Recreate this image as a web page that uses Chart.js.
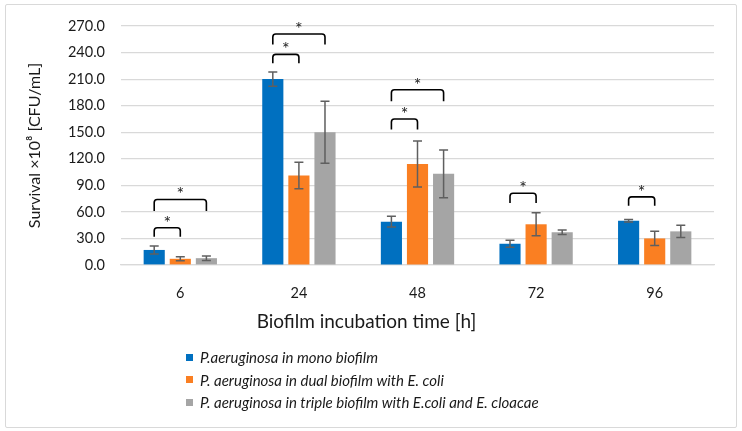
<!DOCTYPE html>
<html>
<head>
<meta charset="utf-8">
<script src="https://cdn.jsdelivr.net/npm/chart.js@4"></script>
<style>
  body { margin: 0; background: #fff; }
  .frame { position: absolute; left: 5px; top: 4px; width: 730px; height: 422px;
           border: 1px solid #d9d9d9; border-radius: 2px; }
  .wrap { position: absolute; left: 0; top: 0; width: 742px; height: 431px; }
  .xtitle { position: absolute; left: 0; top: 309px; width: 733px; text-align: center;
            font-family: Lato, sans-serif; font-size: 19px; color: #1a1a1a; }
  .legend { position: absolute; left: 186px; top: 346px; font-family: Lato, sans-serif;
            font-size: 15px; font-style: italic; color: #1a1a1a; }
  .legend-row { display: flex; align-items: center; height: 22.5px; }
  .legend-box { width: 7px; height: 7px; margin-right: 7px; }
</style>
</head>
<body>
<div class="frame"></div>
<div class="wrap"><canvas id="c" width="742" height="431"></canvas></div>
<div class="xtitle">Biofilm incubation time [h]</div>
<div class="legend" id="legend"></div>
<script>
// categories (incubation time, h)
const categories = ['6', '24', '48', '72', '96'];
const seriesNames = [
  'P.aeruginosa in mono biofilm',
  'P. aeruginosa in dual biofilm with E. coli',
  'P. aeruginosa in triple biofilm with E.coli and E. cloacae',
];
const seriesColors = ['#0070C0', '#FA7F22', '#A5A5A5'];

// survival x10^8 CFU/mL, with +/- error
const monoValues   = [17, 210, 49, 24, 50];
const monoErrors   = [4.5, 8, 6, 4, 1.5];
const dualValues   = [7, 101, 114, 46, 30];
const dualErrors   = [2.3, 15, 26, 13, 8];
const tripleValues = [7.7, 150, 103, 37, 38];
const tripleErrors = [2.5, 35, 27, 2.5, 7];

// significance brackets: category index, from series, to series, top value, leg end value
const bracketGroup = [0, 0, 1, 1, 2, 2, 3, 4];
const bracketFrom  = [0, 0, 0, 0, 0, 0, 0, 0];
const bracketTo    = [1, 2, 1, 2, 1, 2, 1, 1];
const bracketTop   = [42, 74, 238, 261, 165, 198, 81, 77];
const bracketLeg   = [32, 61, 228, 249, 153, 185, 70, 67];

const seriesValues = [monoValues, dualValues, tripleValues];
const seriesErrors = [monoErrors, dualErrors, tripleErrors];

Chart.defaults.font.family = 'Lato, sans-serif';
Chart.defaults.color = '#1a1a1a';

const errorBarPlugin = {
  id: 'errorBars',
  afterDatasetsDraw(chart) {
    const ctx = chart.ctx, y = chart.scales.y;
    ctx.save();
    ctx.strokeStyle = '#5f5f5f';
    ctx.lineWidth = 1.5;
    seriesErrors.forEach((errs, d) => {
      const meta = chart.getDatasetMeta(d);
      meta.data.forEach((bar, i) => {
        const v = seriesValues[d][i], e = errs[i];
        const yt = y.getPixelForValue(v + e), yb = y.getPixelForValue(v - e);
        ctx.beginPath();
        ctx.moveTo(bar.x, yt); ctx.lineTo(bar.x, yb);
        ctx.moveTo(bar.x - 4.5, yt); ctx.lineTo(bar.x + 4.5, yt);
        ctx.moveTo(bar.x - 4.5, yb); ctx.lineTo(bar.x + 4.5, yb);
        ctx.stroke();
      });
    });
    ctx.restore();
  }
};

const bracketPlugin = {
  id: 'brackets',
  afterDatasetsDraw(chart) {
    const ctx = chart.ctx, y = chart.scales.y;
    ctx.save();
    ctx.strokeStyle = '#000';
    ctx.lineWidth = 1.6;
    ctx.fillStyle = '#222';
    ctx.font = '18px Lato, sans-serif';
    ctx.textAlign = 'center';
    ctx.textBaseline = 'alphabetic';
    bracketGroup.forEach((g, k) => {
      const x1 = chart.getDatasetMeta(bracketFrom[k]).data[g].x;
      const x2 = chart.getDatasetMeta(bracketTo[k]).data[g].x;
      const yt = y.getPixelForValue(bracketTop[k]);
      const yl = y.getPixelForValue(bracketLeg[k]);
      ctx.beginPath();
      ctx.moveTo(x1, yl);
      ctx.arcTo(x1, yt, x2, yt, 3);
      ctx.arcTo(x2, yt, x2, yl, 3);
      ctx.lineTo(x2, yl);
      ctx.stroke();
      ctx.fillText('*', (x1 + x2) / 2, yt + 1);
    });
    ctx.restore();
  }
};

new Chart(document.getElementById('c'), {
  type: 'bar',
  data: {
    labels: categories,
    datasets: seriesNames.map((name, d) => ({
      label: name,
      data: seriesValues[d],
      backgroundColor: seriesColors[d],
      borderWidth: 0,
      categoryPercentage: 0.66,
      barPercentage: 0.81,
    })),
  },
  options: {
    responsive: false,
    animation: false,
    layout: { padding: { left: 0, right: 28, top: 26, bottom: 96 } },
    plugins: { legend: { display: false }, tooltip: { enabled: false } },
    scales: {
      x: {
        grid: { display: false },
        border: { display: true, color: '#d9d9d9', width: 1.2 },
        ticks: { font: { size: 14.5 }, padding: 12 },
        afterFit(s) { s.height = 70; },
      },
      y: {
        min: 0, max: 270,
        border: { display: false },
        grid: { color: '#d9d9d9', lineWidth: 1.2, drawTicks: false },
        ticks: { stepSize: 30, font: { size: 14.5 }, padding: 16, callback: v => v.toFixed(1) },
        title: { display: true, text: 'Survival ×10⁸ [CFU/mL]', font: { size: 16 }, padding: { top: 25, bottom: 0 } },
        afterFit(s) { s.width = 121; },
      },
    },
  },
  plugins: [errorBarPlugin, bracketPlugin],
});

const legend = document.getElementById('legend');
seriesNames.forEach((name, d) => {
  const row = document.createElement('div');
  row.className = 'legend-row';
  const box = document.createElement('span');
  box.className = 'legend-box';
  box.style.background = seriesColors[d];
  const txt = document.createElement('span');
  txt.textContent = name;
  row.appendChild(box);
  row.appendChild(txt);
  legend.appendChild(row);
});
</script>
</body>
</html>
